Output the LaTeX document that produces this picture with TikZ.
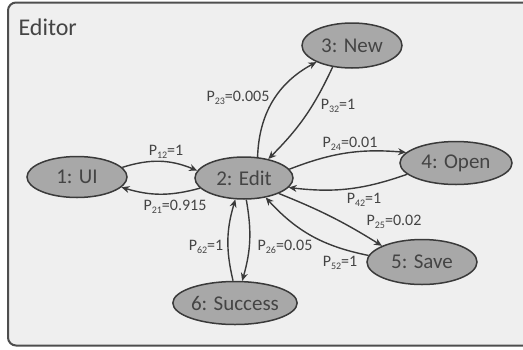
\documentclass[tikz,border=0pt]{standalone}
\usepackage{fontspec}
\setmainfont{Carlito}
\usetikzlibrary{shapes.geometric,arrows.meta}
\definecolor{bgc}{HTML}{EFEFEF}
\definecolor{nodefill}{HTML}{A8A8A8}
\definecolor{linec}{HTML}{3A3A3A}
\definecolor{txtc}{HTML}{444444}
\newcommand\Pl[2]{P\raisebox{-0.35ex}{\fontsize{10}{10}\selectfont #1}=#2}
\tikzset{
  state/.style={ellipse, draw=linec, line width=1.5pt, fill=nodefill, inner sep=0pt,
    text=txtc, font=\fontsize{21}{24}\selectfont},
  trans/.style={draw=linec, line width=1.4pt, -{Stealth[length=8pt,width=7pt]}},
  plabel/.style={text=txtc, font=\fontsize{16}{18}\selectfont, inner sep=0pt},
}
\begin{document}
\begin{tikzpicture}[x=1pt,y=-1pt]
\useasboundingbox (0,0) rectangle (523,349);
\begin{scope}
\clip (0,0) rectangle (523,349);
\draw[draw=linec!90, line width=2pt, fill=bgc, rounded corners=8pt] (8,2.5) rectangle (540,345.5);
\end{scope}
\node[text=txtc, font=\fontsize{24}{28}\selectfont, anchor=west] (title) at (15,27) {Editor};

\node[state, minimum width=100pt, minimum height=41pt] (n1) at (77,177) {1: UI};
\node[state, minimum width=98pt, minimum height=42pt] (n2) at (244,178) {2: Edit};
\node[state, minimum width=100pt, minimum height=45pt] (n3) at (352,45.5) {3: New};
\node[state, minimum width=112pt, minimum height=43pt] (n4) at (456,163) {4: Open};
\node[state, minimum width=110pt, minimum height=45pt] (n5) at (422,262) {5: Save};
\node[state, minimum width=124pt, minimum height=43pt] (n6) at (235,303) {6: Success};

\draw[trans] (n1.12) to[bend left=20] (n2.171);
\draw[trans] (n2.193) to[bend left=16] (n1.-13);
\draw[trans] (n2.57) to[bend left=30] (n3.205);
\draw[trans] (n3.228) to[bend left=10] (n2.38);
\draw[trans] (n2.11) to[bend left=13] (n4.168);
\draw[trans] (n4.193) to[bend left=13] (n2.-12);
\draw[trans] (n2.-24) to[bend left=5] (n5.158);
\draw[trans] (n5.173) to[bend left=18] (n2.-42);
\draw[trans] (n6.95) to[bend left=15] (n2.-112);
\draw[trans] (n2.-84) to[bend left=13] (n6.72);

\node[plabel] (l12) at (166,152) {\Pl{12}{1}};
\node[plabel] (l21) at (175,207) {\Pl{21}{0.915}};
\node[plabel] (l23) at (238,98) {\Pl{23}{0.005}};
\node[plabel] (l32) at (338,106) {\Pl{32}{1}};
\node[plabel] (l24) at (350,144) {\Pl{24}{0.01}};
\node[plabel] (l42) at (364,200) {\Pl{42}{1}};
\node[plabel] (l25) at (394,222) {\Pl{25}{0.02}};
\node[plabel] (l52) at (340,263) {\Pl{52}{1}};
\node[plabel] (l62) at (206,247) {\Pl{62}{1}};
\node[plabel] (l26) at (285,247) {\Pl{26}{0.05}};
\end{tikzpicture}
\end{document}
